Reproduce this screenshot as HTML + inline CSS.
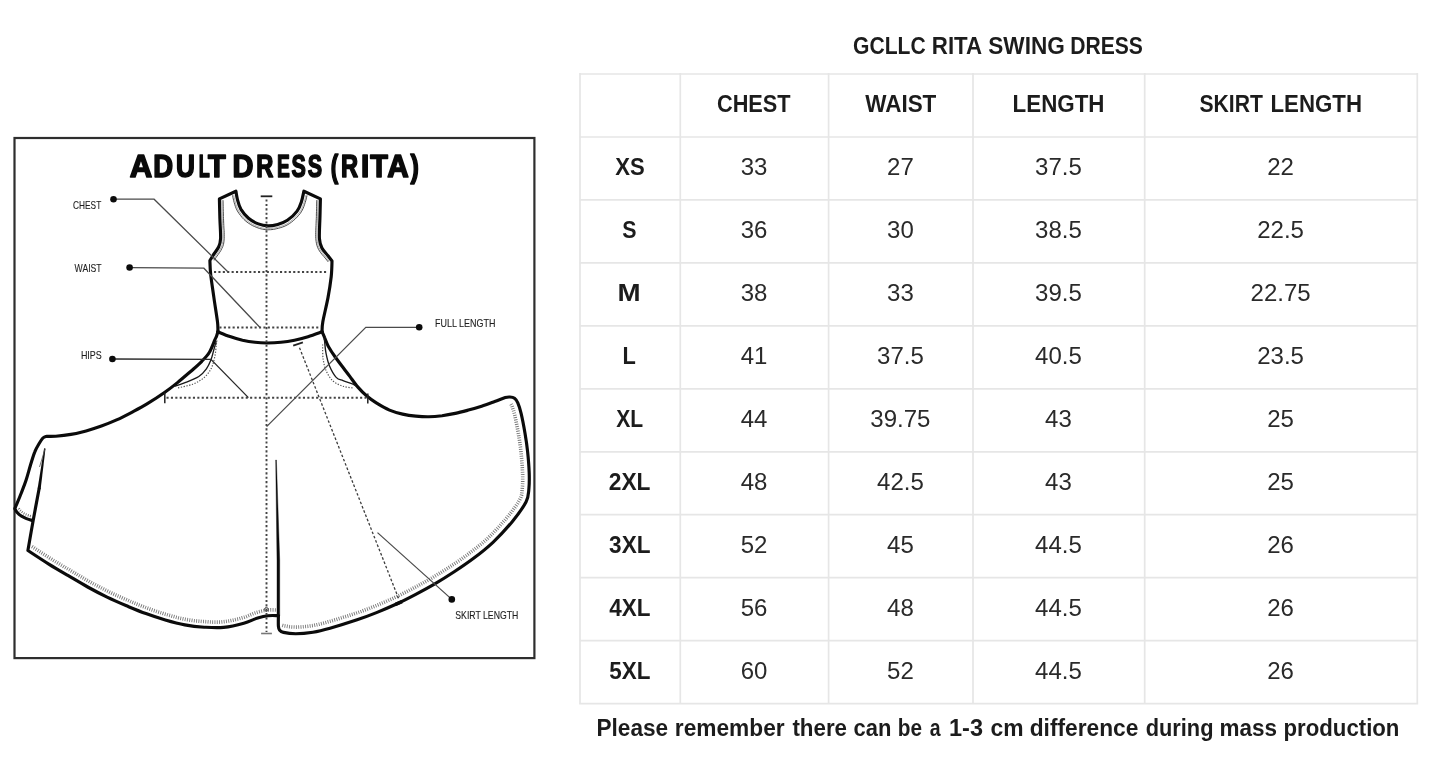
<!DOCTYPE html>
<html lang="en"><head><meta charset="utf-8"><title>GCLLC Rita Swing Dress size chart</title>
<style>html,body{margin:0;padding:0;background:#fff;overflow:hidden}body{width:1445px;height:783px;font-family:"Liberation Sans",sans-serif}svg{display:block;position:absolute;left:0;top:0;will-change:transform;opacity:.999;filter:blur(.45px)}</style></head>
<body>
<svg width="1445" height="783" viewBox="0 0 1445 783">
<rect width="1445" height="783" fill="#fff"/>
<path d="M580 73.1 V704.5M680.3 73.1 V704.5M828.6 73.1 V704.5M973 73.1 V704.5M1144.7 73.1 V704.5M1417.3 73.1 V704.5M579.1 74 H1418.2M579.1 137 H1418.2M579.1 199.9 H1418.2M579.1 262.9 H1418.2M579.1 325.8 H1418.2M579.1 388.8 H1418.2M579.1 451.8 H1418.2M579.1 514.7 H1418.2M579.1 577.7 H1418.2M579.1 640.6 H1418.2M579.1 703.6 H1418.2" stroke="#e6e6e6" stroke-width="1.7" fill="none"/>
<g font-family="'Liberation Sans', sans-serif" text-anchor="middle">
<g font-size="23.4" font-weight="700" fill="#1c1c1c">
<text text-anchor="start" x="853" y="54.3" textLength="72.64" lengthAdjust="spacingAndGlyphs">GCLLC</text>
<text text-anchor="start" x="931.8" y="54.3" textLength="50.31" lengthAdjust="spacingAndGlyphs">RITA</text>
<text text-anchor="start" x="988.3" y="54.3" textLength="76.55" lengthAdjust="spacingAndGlyphs">SWING</text>
<text text-anchor="start" x="1070.2" y="54.3" textLength="72.74" lengthAdjust="spacingAndGlyphs">DRESS</text>
</g>
<g font-size="24" font-weight="700" fill="#1c1c1c">
<text text-anchor="start" x="717" y="112.3" textLength="73.62" lengthAdjust="spacingAndGlyphs">CHEST</text>
<text text-anchor="start" x="865.2" y="112.3" textLength="71.16" lengthAdjust="spacingAndGlyphs">WAIST</text>
<text text-anchor="start" x="1012.6" y="112.3" textLength="91.90" lengthAdjust="spacingAndGlyphs">LENGTH</text>
<text text-anchor="start" x="1199.4" y="112.3" textLength="63.44" lengthAdjust="spacingAndGlyphs">SKIRT</text>
<text text-anchor="start" x="1270.5" y="112.3" textLength="91.49" lengthAdjust="spacingAndGlyphs">LENGTH</text>
<text text-anchor="start" x="615.3" y="175.3" textLength="29.46" lengthAdjust="spacingAndGlyphs">XS</text>
<text text-anchor="start" x="622.3" y="238.2" textLength="14.25" lengthAdjust="spacingAndGlyphs">S</text>
<text text-anchor="start" x="617.6" y="301.2" textLength="23.11" lengthAdjust="spacingAndGlyphs">M</text>
<text text-anchor="start" x="622.6" y="364.1" textLength="13.33" lengthAdjust="spacingAndGlyphs">L</text>
<text text-anchor="start" x="616.2" y="427.1" textLength="26.93" lengthAdjust="spacingAndGlyphs">XL</text>
<text text-anchor="start" x="608.8" y="490.1" textLength="41.69" lengthAdjust="spacingAndGlyphs">2XL</text>
<text text-anchor="start" x="609.1" y="553" textLength="41.41" lengthAdjust="spacingAndGlyphs">3XL</text>
<text text-anchor="start" x="609.3" y="616" textLength="41.23" lengthAdjust="spacingAndGlyphs">4XL</text>
<text text-anchor="start" x="609.2" y="678.9" textLength="41.18" lengthAdjust="spacingAndGlyphs">5XL</text>
</g>
<g font-size="24" fill="#2a2a2a">
<text x="754.1" y="175.3">33</text>
<text x="900.4" y="175.3">27</text>
<text x="1058.4" y="175.3">37.5</text>
<text x="1280.6" y="175.3">22</text>
<text x="754.1" y="238.2">36</text>
<text x="900.4" y="238.2">30</text>
<text x="1058.4" y="238.2">38.5</text>
<text x="1280.6" y="238.2">22.5</text>
<text x="754.1" y="301.2">38</text>
<text x="900.4" y="301.2">33</text>
<text x="1058.4" y="301.2">39.5</text>
<text x="1280.6" y="301.2">22.75</text>
<text x="754.1" y="364.1">41</text>
<text x="900.4" y="364.1">37.5</text>
<text x="1058.4" y="364.1">40.5</text>
<text x="1280.6" y="364.1">23.5</text>
<text x="754.1" y="427.1">44</text>
<text x="900.4" y="427.1">39.75</text>
<text x="1058.4" y="427.1">43</text>
<text x="1280.6" y="427.1">25</text>
<text x="754.1" y="490.1">48</text>
<text x="900.4" y="490.1">42.5</text>
<text x="1058.4" y="490.1">43</text>
<text x="1280.6" y="490.1">25</text>
<text x="754.1" y="553">52</text>
<text x="900.4" y="553">45</text>
<text x="1058.4" y="553">44.5</text>
<text x="1280.6" y="553">26</text>
<text x="754.1" y="616">56</text>
<text x="900.4" y="616">48</text>
<text x="1058.4" y="616">44.5</text>
<text x="1280.6" y="616">26</text>
<text x="754.1" y="678.9">60</text>
<text x="900.4" y="678.9">52</text>
<text x="1058.4" y="678.9">44.5</text>
<text x="1280.6" y="678.9">26</text>
</g>
<g font-size="23" font-weight="700" fill="#1c1c1c">
<text text-anchor="start" x="596.5" y="736.4" textLength="71.69" lengthAdjust="spacingAndGlyphs">Please</text>
<text text-anchor="start" x="674.8" y="736.4" textLength="109.84" lengthAdjust="spacingAndGlyphs">remember</text>
<text text-anchor="start" x="792.4" y="736.4" textLength="54.64" lengthAdjust="spacingAndGlyphs">there</text>
<text text-anchor="start" x="853.5" y="736.4" textLength="37.82" lengthAdjust="spacingAndGlyphs">can</text>
<text text-anchor="start" x="897.8" y="736.4" textLength="24.28" lengthAdjust="spacingAndGlyphs">be</text>
<text text-anchor="start" x="929.7" y="736.4" textLength="10.85" lengthAdjust="spacingAndGlyphs">a</text>
<text text-anchor="start" x="949" y="736.4" textLength="34.03" lengthAdjust="spacingAndGlyphs">1-3</text>
<text text-anchor="start" x="990.5" y="736.4" textLength="33.01" lengthAdjust="spacingAndGlyphs">cm</text>
<text text-anchor="start" x="1029.7" y="736.4" textLength="108.71" lengthAdjust="spacingAndGlyphs">difference</text>
<text text-anchor="start" x="1145.7" y="736.4" textLength="67.75" lengthAdjust="spacingAndGlyphs">during</text>
<text text-anchor="start" x="1219.4" y="736.4" textLength="57.50" lengthAdjust="spacingAndGlyphs">mass</text>
<text text-anchor="start" x="1283.5" y="736.4" textLength="115.94" lengthAdjust="spacingAndGlyphs">production</text>
</g>
</g>
<rect x="14.5" y="138" width="519.9" height="520.1" fill="none" stroke="#2e2e2e" stroke-width="2.2"/>
<g font-family="'Liberation Sans', sans-serif">
<g font-size="30.5" font-weight="700" fill="#0a0a0a" stroke="#0a0a0a" stroke-width="1.6" stroke-linejoin="round">
<text transform="matrix(1.0198 0 0 1 129.74 176.5)">A</text>
<text transform="matrix(0.9012 0 0 1 153.18 176.5)">D</text>
<text transform="matrix(0.8580 0 0 1 176.01 176.5)">U</text>
<text transform="matrix(0.5912 0 0 1 198.67 176.5)">L</text>
<text transform="matrix(0.9508 0 0 1 208.04 176.5)">T</text>
<text transform="matrix(0.9505 0 0 1 232.52 176.5)">D</text>
<text transform="matrix(0.7776 0 0 1 256.34 176.5)">R</text>
<text transform="matrix(0.6307 0 0 1 276.92 176.5)">E</text>
<text transform="matrix(0.7045 0 0 1 291.54 176.5)">S</text>
<text transform="matrix(0.7045 0 0 1 307.64 176.5)">S</text>
<text transform="matrix(0.7348 0 0 1 330.77 176.5)">(</text>
<text transform="matrix(0.7776 0 0 1 341.04 176.5)">R</text>
<text transform="matrix(0.9680 0 0 1 361.00 176.5)">I</text>
<text transform="matrix(0.9457 0 0 1 370.33 176.5)">T</text>
<text transform="matrix(0.9745 0 0 1 387.34 176.5)">A</text>
<text transform="matrix(0.8230 0 0 1 410.43 176.5)">)</text>
</g>
<g font-size="11.2" fill="#1e1e1e" stroke="#1e1e1e" stroke-width="0.12">
<text x="73.1" y="209.2" textLength="28.1" lengthAdjust="spacingAndGlyphs">CHEST</text>
<text x="74.6" y="272.3" textLength="27" lengthAdjust="spacingAndGlyphs">WAIST</text>
<text x="80.9" y="358.8" textLength="20.9" lengthAdjust="spacingAndGlyphs">HIPS</text>
<text x="435.1" y="327.4" textLength="60.3" lengthAdjust="spacingAndGlyphs">FULL LENGTH</text>
<text x="455.3" y="618.9" textLength="63" lengthAdjust="spacingAndGlyphs">SKIRT LENGTH</text>
</g></g>
<path d="M217.9 331.8C217.8 330.1 218.2 327.6 217.5 321.9C216.8 316.2 215 305.5 213.9 297.6C212.8 289.7 211.4 280.8 210.7 274.6C210 268.4 210 262.9 209.9 260.5C210.4 259.7 211.6 257.8 213 255.5C214.4 253.2 217.3 249.8 218.6 247C219.9 244.2 220.4 243.2 220.6 238.5C220.8 233.8 220.1 225.4 219.9 218.8C219.7 212.2 219.5 202.2 219.4 198.9L235.9 191.2C236.2 192.6 236.6 196.4 237.4 199.4C238.2 202.4 239 205.9 240.8 209.1C242.7 212.2 245.6 215.8 248.5 218.3C251.4 220.8 255.1 222.6 258.3 223.9C261.6 225.2 264.8 225.8 268 225.9C271.2 226 274.5 225.3 277.7 224.4C280.9 223.5 284.2 222.5 287.4 220.3C290.6 218.1 294.8 214.2 297.1 211.1C299.5 207.9 300.4 204.7 301.5 201.4C302.6 198.1 303.5 192.9 303.9 191.2L320.4 198.9C320.3 202.2 320.1 212.2 319.9 218.8C319.7 225.4 319.1 233.4 319.4 238.3C319.7 243.2 320.5 245.1 321.9 248C323.3 250.9 326.3 253.6 328 255.8C329.7 258 331.3 260.1 332 261C331.9 263.6 331.9 270.6 331.2 276.7C330.5 282.8 329.4 290.1 328 297.6C326.6 305.1 323.8 316.2 322.8 321.9C321.8 327.6 322.2 330.1 322.1 331.8" fill="none" stroke="#0b0b0b" stroke-width="3.15" stroke-linejoin="round" stroke-linecap="round"/>
<path d="M217.9 331.8C219.9 332.6 225.9 335.2 230 336.6C234.1 338 238.3 339.2 242.5 340.2C246.7 341.1 250.9 341.8 255 342.3C259.1 342.8 262.7 343 267 343C271.3 343 276.4 342.8 281 342.3C285.6 341.8 290 341.1 294.5 340.2C299 339.3 303.4 338.1 308 336.7C312.6 335.3 319.8 332.6 322.1 331.8" fill="none" stroke="#0b0b0b" stroke-width="3.15" stroke-linejoin="round" stroke-linecap="round"/>
<path d="M232.6 195.3L233 197.8L233.6 200.3L234.1 202.3L234.7 204.3L235.4 206.5L236.3 208.8L237.4 211L238.8 213.2L240.4 215.4L242.1 217.5L244 219.5L246 221.3L248.1 222.9L250.3 224.3L252.5 225.6L254.7 226.6L256.9 227.5L259.6 228.5L262.4 229.2L265.1 229.6L267.9 229.8L270.7 229.7L273.5 229.4L276.2 228.8L278.7 228.2L280.8 227.6L282.9 226.9L285.1 226L287.3 224.9L289.6 223.5L291.5 222.1L293.4 220.6L295.3 218.9L297.1 217.1L298.7 215.3L300.3 213.4L301.7 211.2L302.9 208.9L303.8 206.7L304.5 204.7L305.2 202.6L305.9 200.2L306.5 197.7L307 195.4" fill="none" stroke="#3a3a3a" stroke-width="0.9"/>
<path d="M233.8 195.1L234.2 197.6L234.8 200L235.3 202L235.8 204L236.5 206.1L237.4 208.3L238.5 210.4L239.8 212.6L241.3 214.7L243 216.7L244.9 218.6L246.8 220.4L248.8 221.9L250.9 223.3L253 224.5L255.2 225.5L257.3 226.4L260 227.3L262.6 228L265.3 228.4L267.9 228.6L270.6 228.5L273.3 228.2L275.9 227.7L278.4 227L280.4 226.4L282.5 225.7L284.6 224.9L286.8 223.9L288.9 222.5L290.7 221.2L292.6 219.7L294.4 218L296.2 216.3L297.8 214.5L299.3 212.7L300.7 210.6L301.8 208.4L302.7 206.3L303.4 204.3L304.1 202.2L304.8 199.9L305.4 197.5L305.9 195.1" fill="none" stroke="#777" stroke-width="0.6"/>
<path d="M223 200.2L223.1 201.9L223.1 204L223.2 206.3L223.2 208.8L223.3 211.4L223.4 213.9L223.4 216.4L223.5 218.7L223.6 220.9L223.7 223.2L223.8 225.6L223.9 228L224.1 230.4L224.2 232.6L224.2 234.8L224.2 236.8L224.2 238.7L223.9 241.9L223.5 244.3L222.8 246.5L221.8 248.6L220.8 250.6L219.5 252.6L218.2 254.5L217 256.1L216 257.5L214.2 260.4" fill="none" stroke="#3a3a3a" stroke-width="0.9"/>
<path d="M316.8 200.1L316.7 201.9L316.7 204L316.6 206.3L316.6 208.8L316.5 211.4L316.4 213.9L316.4 216.4L316.3 218.7L316.2 220.9L316.1 223.2L316 225.5L315.9 227.9L315.8 230.2L315.7 232.5L315.7 234.6L315.7 236.7L315.8 238.6L316.1 241.4L316.5 243.8L317.1 245.9L317.8 247.8L318.7 249.7L320.3 252.2L322.1 254.5L323.8 256.4L325.2 258.1L326.8 260.1L328.2 261.9" fill="none" stroke="#3a3a3a" stroke-width="0.9"/>
<path d="M221.8 200.2L221.9 201.9L221.9 204L222 206.3L222 208.8L222.1 211.4L222.2 213.9L222.2 216.4L222.3 218.7L222.4 221L222.5 223.3L222.6 225.7L222.7 228.1L222.9 230.4L223 232.7L223 234.8L223 236.8L223 238.6L222.8 241.7L222.3 244L221.7 246L220.8 248L219.7 250L218.5 251.9L217.2 253.8L216 255.4L215 256.8L213.1 259.8" fill="none" stroke="#777" stroke-width="0.6"/>
<path d="M318 200.2L317.9 201.9L317.9 204L317.8 206.3L317.8 208.8L317.7 211.4L317.6 214L317.6 216.4L317.5 218.7L317.4 220.9L317.3 223.2L317.2 225.6L317.1 227.9L317 230.2L316.9 232.5L316.9 234.6L316.9 236.6L317 238.5L317.3 241.2L317.7 243.5L318.2 245.5L318.9 247.3L319.8 249.2L321.3 251.5L323 253.7L324.7 255.7L326.1 257.3L327.7 259.4L329.1 261.2" fill="none" stroke="#777" stroke-width="0.6"/>
<path d="M217.9 331.8C217.7 332.5 217.1 334.6 216.6 336C216.1 337.4 216 337.3 214.8 340C213.6 342.7 211.6 348.6 209.4 352.2C207.2 355.8 204.6 358.4 201.8 361.3C199 364.2 196.8 366.1 192.7 369.7C188.6 373.2 182.2 378.8 177.5 382.6C172.8 386.4 169.6 388.9 164.5 392.5C159.4 396.1 152.4 400.6 147 403.9C141.6 407.2 136.9 409.6 131.8 412.3C126.7 415 121.7 417.6 116.6 419.9C111.5 422.2 106.5 424.2 101.4 426C96.3 427.8 91.2 429.5 86.1 430.9C81 432.3 76 433.5 70.9 434.4C65.8 435.3 59.8 435.9 55.7 436.2C51.6 436.5 48 436.3 46.5 436.3C45.9 436.6 44 436.8 42.7 438.2C41.4 439.6 39.9 442.3 38.6 444.5C37.3 446.7 36.2 448.2 34.9 451.6C33.5 455 31.9 460.3 30.5 465C29.1 469.7 27.7 475.1 26.2 479.8C24.7 484.5 22.9 488.8 21.3 493C19.7 497.2 17.5 502.2 16.4 504.8C15.3 507.4 15.1 508.1 14.8 508.7C15.2 509.3 16.1 511.2 17.2 512.5C18.3 513.8 20.1 515.2 21.6 516.2C23.2 517.2 24.7 517.9 26.5 518.6C28.3 519.3 31.4 520.2 32.4 520.5" fill="none" stroke="#0b0b0b" stroke-width="3.15" stroke-linejoin="round" stroke-linecap="round"/>
<path d="M39.1 488.7C38.1 493.9 35.2 509.5 33.3 519.8C31.4 530.1 28.8 545.4 27.9 550.5C31.4 552.8 42.1 559.9 48.8 564.1C55.5 568.3 61.8 571.9 68.3 575.7C74.8 579.5 81.2 583.4 87.7 587C94.2 590.6 100.6 594 107.1 597.1C113.6 600.2 120 603 126.5 605.8C133 608.5 139.4 611.2 145.9 613.6C152.4 616 158.8 618.1 165.3 620C171.8 621.9 178.3 623.7 184.8 624.9C191.3 626.1 197.7 626.8 204.2 627.2C210.7 627.6 217 628.1 223.6 627.4C230.2 626.7 238.1 624.8 243.8 623.2C249.5 621.6 253.7 619.2 257.7 618C261.7 616.8 264.6 616.1 268 615.7C271.4 615.3 276.2 615.6 277.8 615.6" fill="none" stroke="#0b0b0b" stroke-width="3.15" stroke-linejoin="round" stroke-linecap="round"/>
<path d="M44.1 448.2 L45.5 448.6 L40.65 489.2 L37.6 488.6 Z" fill="#0b0b0b"/>
<path d="M45 449 L39.5 467" fill="none" stroke="#555" stroke-width="0.8"/>
<path d="M278.4 615.5C278.4 617.2 278.2 623.6 278.4 626C278.6 628.4 278.6 628.9 279.5 630C280.4 631.1 280.8 631.8 283.5 632.4C286.2 633 290.8 633.7 295.7 633.7C300.6 633.7 307.3 633.1 313 632.2C318.7 631.3 322.6 630.3 330 628.2C337.4 626.1 349.4 622.4 357.1 619.8C364.9 617.2 370 615.2 376.5 612.6C383 610 389.4 607.3 395.9 604.3C402.4 601.3 408.8 598 415.3 594.6C421.8 591.2 428.3 587.7 434.8 583.9C441.3 580.1 447.7 576.1 454.2 571.8C460.7 567.5 467.1 563.2 473.6 558.3C480.1 553.4 486.5 548.4 493 542.3C499.5 536.1 506.9 528.1 512.4 521.4C517.9 514.7 523.2 507.4 526 502C528.8 496.6 528.4 493.6 528.9 488.7C529.4 483.8 529.4 479.1 529.2 472.9C529 466.7 528.3 458.2 527.6 451.6C526.9 445 526.1 439.6 525 433.2C523.9 426.8 522.3 418.4 521.1 413.4C519.9 408.3 518.9 405.4 517.8 402.9C516.7 400.4 515.8 399.3 514.5 398.3C513.2 397.3 511.4 397.1 509.9 397C508.4 396.9 507.8 396.8 505.3 397.6C502.8 398.4 498.6 400.2 494.7 401.6C490.8 403 486 404.8 481.6 406.2C477.2 407.6 472.8 408.9 468.4 410.1C464 411.3 459.7 412.5 455.3 413.4C450.9 414.3 446.5 415.1 442.1 415.7C437.7 416.2 433.3 416.6 428.9 416.7C424.5 416.8 420.2 416.5 415.8 416.1C411.4 415.7 407 415.1 402.6 414.1C398.2 413.1 393.9 412 389.5 410.1C385.1 408.2 380 405.2 376.3 402.9C372.6 400.6 370.2 398.9 367.1 396.3C364 393.7 360.8 390.4 357.9 387.1C355 383.8 352.3 379.7 350 376.6C347.7 373.5 346.5 372 344 368.7C341.5 365.4 337.8 360.7 335.2 357C332.6 353.3 330.2 349.6 328.4 346.4C326.6 343.2 325.7 340 324.6 337.6C323.6 335.2 322.5 332.8 322.1 331.8" fill="none" stroke="#0b0b0b" stroke-width="3.15" stroke-linejoin="round" stroke-linecap="round"/>
<path d="M275.7 460 L276.4 460 L279.7 560 L279.7 616 L277 616 L277 560 Z" fill="#0b0b0b" stroke="#0b0b0b" stroke-width="0.4"/>
<path d="M32 546.5L33.3 547.3L34.8 548.3L36.5 549.4L38.3 550.6L40.2 551.9L42.2 553.2L44.2 554.5L46.2 555.8L48.2 557.1L50 558.3L51.8 559.3L53.6 560.5L55.3 561.5L57.1 562.6L58.9 563.7L60.6 564.7L62.4 565.7L64.1 566.8L65.9 567.8L67.6 568.8L69.4 569.8L71.1 570.9L72.9 571.9L74.7 573L76.5 574L78.2 575.1L80 576.1L81.7 577.1L83.5 578.2L85.2 579.2L86.9 580.2L88.7 581.1L90.4 582.1L92.3 583.2L94.2 584.2L96.2 585.2L98.1 586.2L100 587.2L101.9 588.2L103.8 589.2L105.7 590.2L107.6 591.1L109.5 592.1L111.4 593L113.3 593.9L115.3 594.8L117.2 595.6L119.1 596.5L121 597.3L122.9 598.2L124.8 599L126.8 599.8L128.7 600.6L130.6 601.5L132.5 602.3L134.5 603.1L136.4 603.9L138.3 604.7L140.2 605.4L142.1 606.2L144 606.9L145.9 607.6L147.8 608.3L149.7 609L151.6 609.7L153.5 610.4L155.4 611L157.4 611.7L159.3 612.3L161.2 612.9L163.1 613.5L165 614.1L166.9 614.6L168.8 615.2L170.7 615.7L172.6 616.3L174.5 616.8L176.4 617.3L178.3 617.8L180.2 618.2L182.1 618.6L184 619L185.8 619.4L187.9 619.8L190 620.1L192 620.4L194.1 620.7L196.2 620.9L198.3 621.1L200.4 621.3L202.5 621.5L204.6 621.6L206.7 621.7L208.8 621.9L210.9 622L213 622.1L215 622.1L217 622.1L219 622.1L221 622L223 621.8L224.9 621.6L226.8 621.3L228.8 621L230.8 620.6L232.8 620.2L234.9 619.7L236.8 619.2L238.8 618.8L240.6 618.3L242.2 617.8L244.4 617.2L246.4 616.5L248.3 615.7L250.2 614.9L252.1 614.1L254 613.3L256 612.7L258.5 611.9L260.8 611.3L263 610.8L265.1 610.4L267.5 610.1L270.5 609.9L273.6 609.9L276.2 610" fill="none" stroke="#777" stroke-width="3.6" stroke-dasharray="0.9 1.4"/>
<path d="M282.3 625.3L283.5 625.7L284.7 625.9L286 626.1L287.7 626.4L289.6 626.7L291.6 626.9L293.6 627L295.7 627.1L297.4 627.1L299.3 627L301.4 626.9L303.5 626.7L305.6 626.5L307.8 626.3L309.9 626L312 625.7L313.9 625.4L315.7 625L317.5 624.6L319.4 624.2L321.3 623.7L323.3 623.2L325.6 622.6L328.2 621.8L329.8 621.4L331.6 620.9L333.4 620.3L335.3 619.8L337.3 619.2L339.4 618.5L341.4 617.9L343.5 617.2L345.6 616.6L347.6 616L349.6 615.3L351.5 614.7L353.3 614.1L355 613.5L357.2 612.8L359.3 612.1L361.3 611.4L363.1 610.7L365 610L366.8 609.3L368.5 608.7L370.3 607.9L372.2 607.2L374 606.5L376 605.7L377.9 604.9L379.8 604.1L381.7 603.3L383.6 602.5L385.5 601.7L387.4 600.9L389.3 600L391.2 599.2L393.1 598.3L395 597.4L396.9 596.5L398.8 595.6L400.7 594.7L402.6 593.7L404.5 592.7L406.5 591.8L408.4 590.8L410.3 589.8L412.2 588.8L414 587.8L415.8 586.9L417.5 586L419.3 585L421 584.1L422.8 583.1L424.5 582.2L426.3 581.2L428 580.2L429.7 579.2L431.5 578.2L433.2 577.2L434.9 576.1L436.7 575.1L438.4 574L440.1 573L441.9 571.9L443.6 570.8L445.4 569.7L447.1 568.6L448.8 567.4L450.6 566.3L452.3 565.1L454.1 564L455.8 562.8L457.6 561.6L459.3 560.5L461 559.3L462.7 558.1L464.5 556.8L466.2 555.6L467.9 554.3L469.6 553L471.2 551.8L472.8 550.6L474.4 549.4L476 548.1L477.6 546.9L479.1 545.6L480.7 544.4L482.3 543.1L483.8 541.7L485.4 540.4L486.9 539L488.5 537.5L489.8 536.2L491.2 534.9L492.6 533.5L494 532L495.4 530.6L496.8 529.1L498.2 527.6L499.6 526.1L501 524.5L502.3 523L503.6 521.5L504.9 520.1L506.1 518.6L507.3 517.2L508.7 515.4L510.2 513.6L511.6 511.8L512.9 510L514.2 508.3L515.5 506.5L516.6 504.9L517.7 503.3L518.6 501.7L519.4 500.3L520 499.2L521 497.1L521.5 495.5L521.8 494.1L522 492.4L522.1 490.4L522.3 488.1L522.5 486.1L522.6 484.2L522.7 482.2L522.7 480.2L522.7 478L522.7 475.6L522.6 473.1L522.5 471.3L522.4 469.3L522.3 467.2L522.2 465.1L522 462.9L521.8 460.7L521.6 458.5L521.4 456.4L521.2 454.3L521 452.3L520.8 450.2L520.6 448.1L520.3 446.2L520 444.2L519.8 442.3L519.5 440.3L519.2 438.4L518.8 436.4L518.5 434.3L518.2 432.4L517.8 430.4L517.4 428.3L517 426.2L516.6 424.1L516.2 422L515.8 420L515.4 418.2L515 416.5L514.7 415L514 412.3L513.4 410.1L512.8 408.4L512.3 406.9L511.9 405.8L510.9 403.9L511 403.9L510.2 403.7" fill="none" stroke="#777" stroke-width="3.6" stroke-dasharray="0.9 1.4"/>
<path d="M18.8 508.4L19.9 510.1L21.6 511.7L23.6 513.2L25.5 514.3L27.8 515.2L29.7 515.9L31.9 516.6" fill="none" stroke="#6a6a6a" stroke-width="2.4" stroke-dasharray="0.9 1.4"/>
<path d="M216.3 341C215.9 342.4 214.9 346 214 349.1C213.1 352.2 212.3 356.5 211 359.8C209.7 363.1 208.4 366.1 206.4 368.9C204.4 371.7 202.4 374.2 198.8 376.5C195.2 378.8 189.2 381 185.1 382.6C181 384.2 176.2 385.8 174.4 386.4" fill="none" stroke="#1a1a1a" stroke-width="1.35"/>
<path d="M324 338.5C324.1 339 324.3 339.1 324.6 341.5C324.9 343.9 325.2 349.1 326 353.2C326.8 357.2 327.7 361.8 329.4 365.8C331.1 369.8 333.9 374.9 336.2 377.4C338.5 379.9 340.4 379.6 343 380.6C345.6 381.7 349.5 382.8 351.7 383.7C353.9 384.6 355.3 385.6 356 386" fill="none" stroke="#1a1a1a" stroke-width="1.35"/>
<path d="M216.9 340.5C216.8 341.2 216.7 341.9 216.3 344.6C216 347.3 215.7 352.6 214.8 356.7C213.9 360.8 212.9 365.3 211 368.9C209.1 372.5 206.5 375.6 203.4 378.1C200.3 380.7 197 382.6 192.7 384.2C188.4 385.8 180 387.4 177.5 388" fill="none" stroke="#555" stroke-width="1.2" stroke-dasharray="1.3 1.5"/>
<path d="M322.6 344.4C322.7 346.8 322.5 354.5 323.1 359C323.8 363.5 324.8 367.9 326.5 371.6C328.2 375.3 330.6 378.9 333.3 381.3C336.1 383.7 339.6 385.1 343 386.2C346.4 387.3 351.9 387.8 353.7 388.1" fill="none" stroke="#555" stroke-width="1.2" stroke-dasharray="1.3 1.5"/>
<path d="M266.5 199.5 V632" fill="none" stroke="#444" stroke-width="1.9" stroke-dasharray="2.1 2.3"/>
<path d="M214 272 H327" fill="none" stroke="#444" stroke-width="1.9" stroke-dasharray="2.1 2.3"/>
<path d="M219.4 327.5 H320" fill="none" stroke="#444" stroke-width="1.9" stroke-dasharray="2.1 2.3"/>
<path d="M166.5 397.8 H366.5" fill="none" stroke="#444" stroke-width="1.9" stroke-dasharray="2.1 2.3"/>
<path d="M299.5 347.7 L398.8 599" fill="none" stroke="#3c3c3c" stroke-width="1.3" stroke-dasharray="2.6 2"/>
<path d="M260.7 196.3 H272.3" stroke="#222" stroke-width="1.8" fill="none"/>
<path d="M261.1 633.5 H271.9" stroke="#777" stroke-width="1.6" fill="none"/>
<path d="M164.8 392.8 V403.3 M367.8 393.6 V403.4" stroke="#222" stroke-width="1.5" fill="none"/>
<path d="M293.2 345.7 L302.9 342.3" stroke="#222" stroke-width="1.8" fill="none"/>
<path d="M395.5 604.4 L402 601.6" stroke="#0b0b0b" stroke-width="3.4" fill="none"/>
<circle cx="266.4" cy="609.4" r="1.9" fill="none" stroke="#444" stroke-width="1"/>
<path d="M113.5 199.2 H154.1 L228.3 272.2" fill="none" stroke="#4a4a4a" stroke-width="1.25"/>
<path d="M129.6 267.6 L203.9 268.2 L260 327.5" fill="none" stroke="#4a4a4a" stroke-width="1.25"/>
<path d="M112.4 359 L210.9 359.4 L248.4 397.6" fill="none" stroke="#2a2a2a" stroke-width="1.35"/>
<path d="M419.2 327.3 H365.8 L266.6 426.6" fill="none" stroke="#4a4a4a" stroke-width="1.25"/>
<path d="M377.5 532.6 L451.8 599.4" fill="none" stroke="#4a4a4a" stroke-width="1.25"/>
<circle cx="113.5" cy="199.2" r="3.3" fill="#0b0b0b"/>
<circle cx="129.6" cy="267.5" r="3.3" fill="#0b0b0b"/>
<circle cx="112.4" cy="359" r="3.3" fill="#0b0b0b"/>
<circle cx="419.2" cy="327.2" r="3.3" fill="#0b0b0b"/>
<circle cx="451.8" cy="599.4" r="3.3" fill="#0b0b0b"/>
</svg>
</body></html>
